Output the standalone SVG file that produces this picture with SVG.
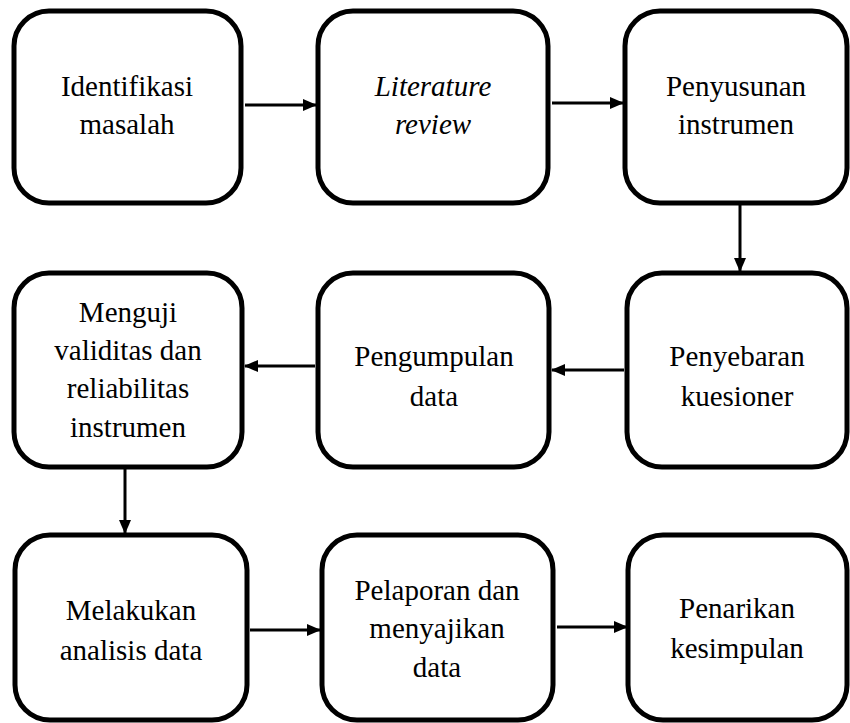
<svg xmlns="http://www.w3.org/2000/svg" width="850" height="723" viewBox="0 0 850 723">
<style>
.box{fill:#fff;stroke:#000;stroke-width:5}
.c{stroke:#000;stroke-width:3;fill:none;marker-end:url(#ah)}
text{font-family:"Liberation Serif","Times New Roman",serif;font-size:29px;text-anchor:middle;fill:#000}
.i{font-style:italic}
</style>
<defs>
<marker id="ah" viewBox="0 0 14 14" markerWidth="14" markerHeight="14" refX="13" refY="7" orient="auto" markerUnits="userSpaceOnUse">
<path d="M0,1 L14,7 L0,13 Z" fill="#000"/>
</marker>
</defs>
<rect width="850" height="723" fill="#fff"/>
<g id="connectors">
<line class="c" x1="245" y1="105" x2="316" y2="105"/>
<line class="c" x1="552" y1="103" x2="623" y2="103"/>
<line class="c" x1="740" y1="205" x2="740" y2="271"/>
<line class="c" x1="624" y1="370" x2="552" y2="370"/>
<line class="c" x1="315" y1="366" x2="245" y2="366"/>
<line class="c" x1="125" y1="469" x2="125" y2="533"/>
<line class="c" x1="250" y1="630" x2="320" y2="630"/>
<line class="c" x1="557" y1="627" x2="627" y2="627"/>
</g>
<g id="n1"><rect class="box" x="14" y="11" width="227" height="192" rx="35"/>
<text x="127" y="96">Identifikasi</text><text x="127" y="134">masalah</text></g>
<g id="n2"><rect class="box" x="318" y="11" width="230" height="192" rx="35"/>
<text class="i" x="433" y="96">Literature</text><text class="i" x="433" y="134">review</text></g>
<g id="n3"><rect class="box" x="625" y="11" width="222" height="192" rx="35"/>
<text x="736" y="96">Penyusunan</text><text x="736" y="134">instrumen</text></g>
<g id="n6"><rect class="box" x="627" y="273" width="220" height="194" rx="35"/>
<text x="737" y="366">Penyebaran</text><text x="737" y="406">kuesioner</text></g>
<g id="n5"><rect class="box" x="318" y="273" width="231" height="194" rx="35"/>
<text x="434" y="366">Pengumpulan</text><text x="434" y="406">data</text></g>
<g id="n4"><rect class="box" x="14" y="273" width="228" height="194" rx="35"/>
<text x="128" y="322">Menguji</text><text x="128" y="360">validitas dan</text><text x="128" y="398">reliabilitas</text><text x="128" y="437">instrumen</text></g>
<g id="n7"><rect class="box" x="15" y="535" width="232" height="185" rx="35"/>
<text x="131" y="620">Melakukan</text><text x="131" y="660">analisis data</text></g>
<g id="n8"><rect class="box" x="322" y="535" width="231" height="185" rx="35"/>
<text x="437" y="600">Pelaporan dan</text><text x="437" y="638">menyajikan</text><text x="437" y="677">data</text></g>
<g id="n9"><rect class="box" x="628" y="535" width="219" height="185" rx="35"/>
<text x="737" y="618">Penarikan</text><text x="737" y="658">kesimpulan</text></g>
</svg>
